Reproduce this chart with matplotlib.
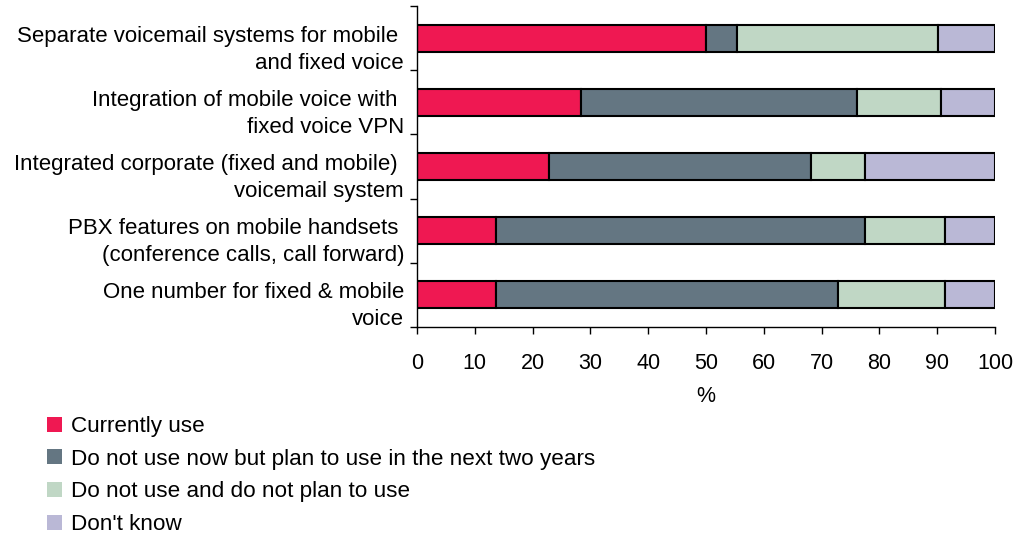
import matplotlib
matplotlib.use("Agg")
import matplotlib.pyplot as plt
from matplotlib.patches import Patch
import numpy as np

plt.rcParams['font.family'] = ['Liberation Sans', 'DejaVu Sans']

categories = [
    "Separate voicemail systems for mobile \nand fixed voice",
    "Integration of mobile voice with \nfixed voice VPN",
    "Integrated corporate (fixed and mobile) \nvoicemail system",
    "PBX features on mobile handsets \n(conference calls, call forward)",
    "One number for fixed & mobile\nvoice",
]
series_names = [
    "Currently use",
    "Do not use now but plan to use in the next two years",
    "Do not use and do not plan to use",
    "Don't know",
]
currently_use = [50.0, 28.4, 22.9, 13.6, 13.6]
plan_to_use = [5.3, 47.8, 45.3, 63.9, 59.2]
not_plan = [34.8, 14.4, 9.3, 13.8, 18.5]
dont_know = [9.9, 9.4, 22.5, 8.7, 8.7]
x_ticks = list(range(0, 101, 10))

colors = ["#EF1852", "#647682", "#C0D7C5", "#BAB8D6"]

fig = plt.figure(figsize=(10.18, 5.35), dpi=100)
ax = fig.add_axes([417/1018, 1-327/535, (995-417)/1018, (327-6)/535])

y = np.arange(len(categories))
left = np.zeros(len(categories))
for vals, c in zip([currently_use, plan_to_use, not_plan, dont_know], colors):
    ax.barh(y, vals, left=left, height=0.42, color=c, edgecolor='black', linewidth=1.5)
    left = left + np.array(vals)

ax.set_xlim(0, 100)
ax.set_ylim(len(categories) - 0.5, -0.5)
ax.set_xticks(x_ticks)
ax.set_xticklabels([str(t) for t in x_ticks], fontsize=15.5)
ax.set_yticks(np.arange(-0.5, len(categories), 1.0))
ax.set_yticklabels([])
ax.tick_params(axis='x', direction='out', length=5, width=1, pad=14)
ax.tick_params(axis='y', direction='out', length=5, width=1)
for s in ['top', 'right']:
    ax.spines[s].set_visible(False)
for s in ['left', 'bottom']:
    ax.spines[s].set_linewidth(1)
ax.set_xlabel('%', fontsize=15.5, labelpad=8)

trans = matplotlib.transforms.blended_transform_factory(fig.transFigure, ax.transData)
for i, lab in enumerate(categories):
    ax.text(404/1018, i + 0.18, lab, transform=trans, ha='right', va='center',
            fontsize=16, linespacing=1.38, multialignment='right')

handles = [Patch(facecolor=c, edgecolor='none') for c in colors]
fig.legend(handles, series_names, loc='upper left', bbox_to_anchor=(38/1018, 1-407/535),
           frameon=False, fontsize=16.2, handlelength=0.65, handleheight=0.65,
           handletextpad=0.43, labelspacing=0.52, borderaxespad=0)

fig.savefig('out.png', dpi=100)
